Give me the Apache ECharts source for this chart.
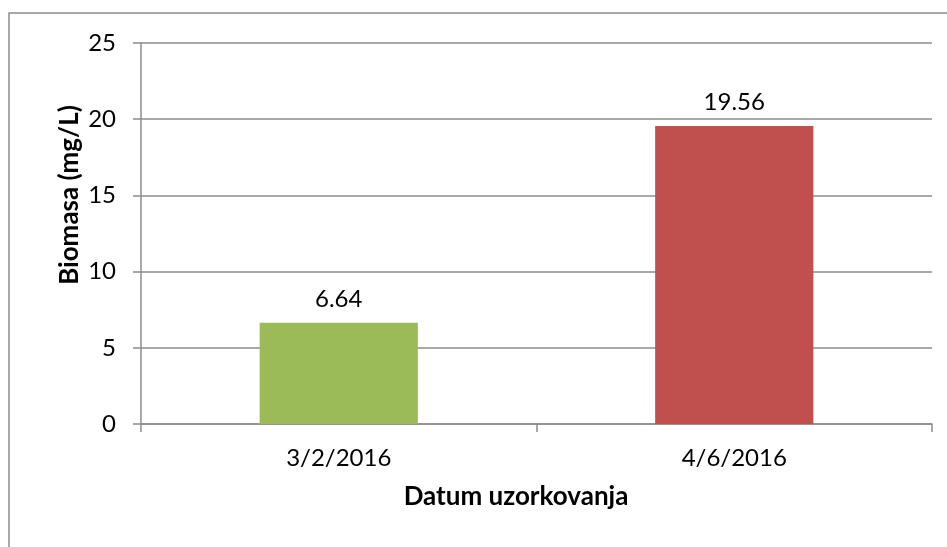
<!DOCTYPE html>
<html>
<head>
<meta charset="utf-8">
<script src="https://cdn.jsdelivr.net/npm/echarts@6/dist/echarts.min.js"></script>
<style>html,body{margin:0;padding:0;background:#fff;}#c{width:947px;height:547px;}</style>
</head>
<body>
<div id="c"></div>
<script>
var categories = ['3/2/2016', '4/6/2016'];
var values = [6.64, 19.56];
var barColors = ['#9BBB59', '#C0504D'];
var yTitle = 'Biomasa (mg/L)';
var xTitle = 'Datum uzorkovanja';
var yMin = 0, yMax = 25, yStep = 5;

var FONT = 'Lato, "Open Sans", sans-serif';
var chart = echarts.init(document.getElementById('c'), null, {renderer: 'canvas'});
chart.setOption({
  animation: false,
  backgroundColor: '#fff',
  grid: {left: 141, top: 43, right: 15, bottom: 123, containLabel: false},
  xAxis: {
    type: 'category',
    data: categories,
    axisLine: {show: true, lineStyle: {color: '#8c8c8c', width: 1.5}},
    axisTick: {show: true, length: 8, alignWithLabel: false, lineStyle: {color: '#8c8c8c', width: 1.5}},
    axisLabel: {margin: 22, color: '#000', fontFamily: FONT, fontSize: 24}
  },
  yAxis: {
    type: 'value',
    min: yMin, max: yMax, interval: yStep,
    axisLine: {show: true, lineStyle: {color: '#8c8c8c', width: 1.5}},
    axisTick: {show: true, length: 8, lineStyle: {color: '#8c8c8c', width: 1.5}},
    splitLine: {show: true, lineStyle: {color: '#8c8c8c', width: 1.5}},
    axisLabel: {margin: 25, color: '#000', fontFamily: FONT, fontSize: 24}
  },
  series: [{
    type: 'bar',
    data: values.map(function (v, i) { return {value: v, itemStyle: {color: barColors[i]}}; }),
    barCategoryGap: '60%',
    label: {show: true, position: 'top', distance: 12, color: '#000', fontFamily: FONT, fontSize: 24,
      formatter: function (p) { return p.value.toFixed(2); }}
  }],
  graphic: [
    {type: 'rect', shape: {x: 9, y: 13, width: 960, height: 560}, style: {fill: 'none', stroke: '#8c8c8c', lineWidth: 1.5}, silent: true},
    {type: 'text', x: 70, y: 195, rotation: Math.PI / 2,
      style: {text: yTitle, fontFamily: FONT, fontWeight: 'bold', fontSize: 26, fill: '#000', textAlign: 'center', textVerticalAlign: 'middle'}},
    {type: 'text', x: 516, y: 497,
      style: {text: xTitle, fontFamily: FONT, fontWeight: 'bold', fontSize: 26, fill: '#000', textAlign: 'center', textVerticalAlign: 'middle'}}
  ]
});
</script>
</body>
</html>
